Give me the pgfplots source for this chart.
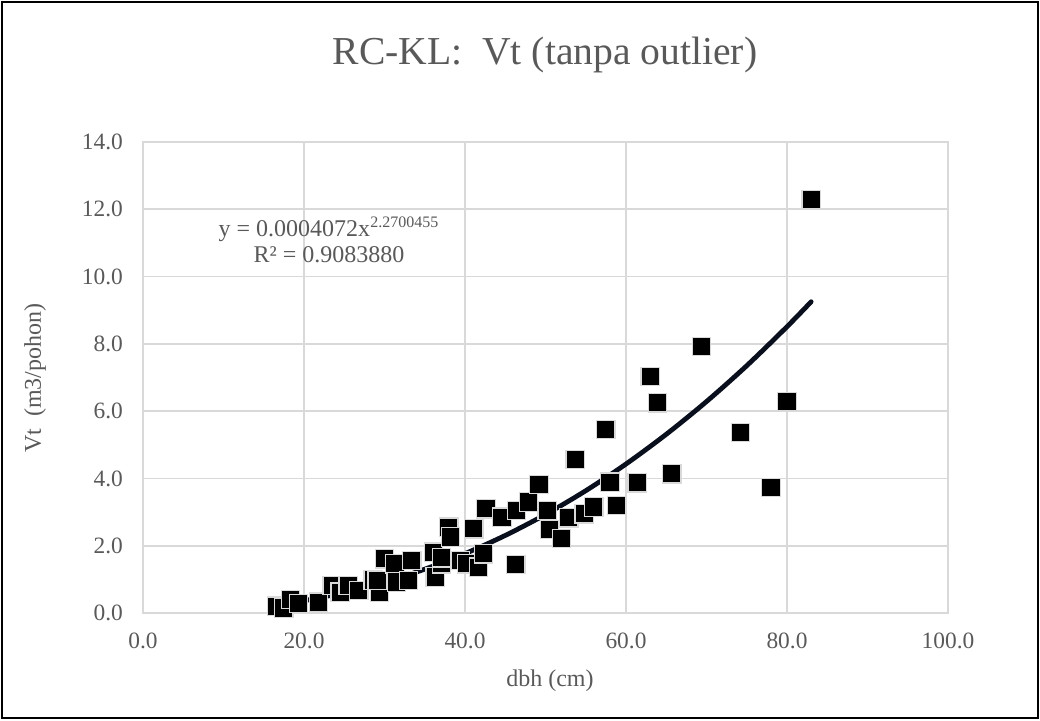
\documentclass[border=0pt]{standalone}
\usepackage{fontspec}
\setmainfont{Liberation Serif}
\usepackage{pgfplots}
\pgfplotsset{compat=1.18}
\definecolor{txt}{HTML}{595959}
\definecolor{gridc}{HTML}{D9D9D9}
\definecolor{trend}{HTML}{0A0F1E}

\begin{document}
\begin{tikzpicture}
  % page = 1040x720 px at 0.5pt per px, origin at the plot area's lower left
  \useasboundingbox (-71.5pt,-53.5pt) rectangle (448.5pt,306.5pt);
  \draw[black, line width=1pt] (-70.5pt,-52.5pt) rectangle (447.5pt,305.5pt);
  \begin{axis}[
    at={(0pt,0pt)}, anchor=south west,
    scale only axis,
    width=402.5pt, height=235.5pt,
    xmin=0, xmax=100, ymin=0, ymax=14,
    xtick={0,20,...,100}, ytick={0,2,...,14},
    grid=major,
    major grid style={gridc, line width=0.8pt},
    axis line style={gridc, line width=0.8pt},
    major tick length=0pt,
    tick label style={font=\fontsize{11.7}{13}\selectfont, text=txt},
    /pgf/number format/.cd, fixed, fixed zerofill, precision=1, assume math mode=true,
    /pgfplots/.cd,
    xticklabel style={yshift=-6.5pt},
    yticklabel style={xshift=-6.5pt},
    clip=false,
  ]
    % observations
    \addplot[only marks, mark=square*, mark size=4.6pt,
      mark options={fill=black, draw=gridc, line width=0.6pt}] table {
      16.6 0.20
      17.5 0.15
      18.3 0.40
      19.3 0.28
      21.8 0.32
      23.5 0.82
      24.5 0.62
      25.5 0.82
      26.8 0.67
      28.6 0.98
      29.4 0.62
      29.1 0.97
      30.0 1.61
      31.3 1.46
      31.5 0.92
      33.0 0.97
      33.4 1.56
      36.1 1.81
      36.3 1.07
      37.1 1.46
      37.1 1.64
      38.0 2.55
      38.2 2.26
      39.4 1.56
      40.2 1.46
      41.1 2.50
      41.7 1.36
      42.3 1.76
      42.6 3.10
      44.6 2.85
      46.3 1.44
      46.4 3.05
      47.9 3.30
      49.2 3.82
      50.2 3.05
      50.5 2.48
      52.0 2.21
      52.9 2.83
      53.7 4.56
      54.8 2.95
      56.0 3.15
      57.5 5.45
      58.0 3.89
      58.8 3.20
      61.4 3.87
      63.0 7.03
      63.9 6.25
      65.7 4.14
      69.4 7.92
      74.2 5.37
      78.0 3.73
      80.0 6.28
      83.0 12.29
    };
    % power trendline y = 0.0004072 x^2.2700455, tabulated
    \addplot[trend, line width=2.4pt, smooth, line cap=round] table {
      17 0.2529
      20 0.3658
      25 0.6072
      30 0.9183
      35 1.3029
      40 1.7646
      45 2.3055
      50 2.9283
      55 3.6352
      60 4.4291
      65 5.3124
      70 6.2855
      75 7.3512
      80 8.5109
      83 9.2519
    };
  \end{axis}
  \node[text=txt, font=\fontsize{19.8}{22}\selectfont] at (201pt,279pt) {RC-KL:\ \ Vt (tanpa outlier)};
  \node[text=txt, font=\fontsize{12}{14}\selectfont] at (203.5pt,-34pt) {dbh (cm)};
  \node[text=txt, font=\fontsize{12}{14}\selectfont, rotate=90] at (-54pt,117.5pt) {Vt\ \ (m3/pohon)};
  \node[text=txt, font=\fontsize{12}{14}\selectfont, align=center] at (93pt,186.5pt)
    {y = 0.0004072x\textsuperscript{2.2700455}\\[-1pt] R² = 0.9083880};
\end{tikzpicture}
\end{document}
